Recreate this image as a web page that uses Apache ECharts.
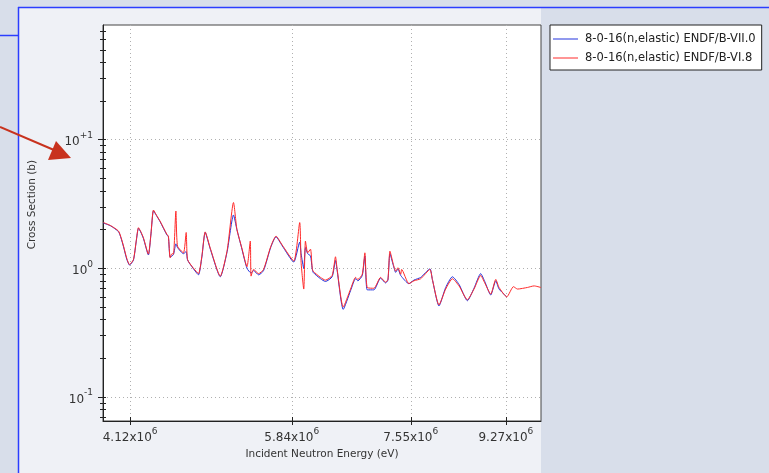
<!DOCTYPE html>
<html>
<head>
<meta charset="utf-8">
<script src="https://cdn.jsdelivr.net/npm/echarts@6/dist/echarts.min.js"></script>
<style>
html,body{margin:0;padding:0;background:#d8deea;}
#c{width:769px;height:473px;}
</style>
</head>
<body>
<div id="c"></div>
<script>
// ---- data (energies in eV, cross sections in barns) ----
const seriesNames = ['8-0-16(n,elastic) ENDF/B-VII.0', '8-0-16(n,elastic) ENDF/B-VI.8'];
const energyBlue = [3.889e6,3.95e6,4.018e6,4.040e6,4.062e6,4.09e6,4.115e6,4.150e6,4.175e6,4.195e6,4.215e6,4.240e6,4.286e6,4.310e6,4.333e6,4.360e6,4.395e6,4.460e6,4.475e6,4.492e6,4.524e6,4.548e6,4.564e6,4.623e6,4.650e6,4.664e6,4.720e6,4.775e6,4.810e6,4.845e6,4.900e6,5.005e6,5.080e6,5.150e6,5.188e6,5.240e6,5.302e6,5.349e6,5.378e6,5.437e6,5.495e6,5.580e6,5.645e6,5.720e6,5.865e6,5.941e6,5.959e6,5.993e6,6.015e6,6.044e6,6.081e6,6.103e6,6.116e6,6.214e6,6.280e6,6.372e6,6.418e6,6.441e6,6.526e6,6.630e6,6.702e6,6.736e6,6.800e6,6.838e6,6.873e6,6.972e6,7.074e6,7.151e6,7.187e6,7.218e6,7.272e6,7.308e6,7.344e6,7.388e6,7.520e6,7.602e6,7.713e6,7.869e6,7.910e6,8.024e6,8.141e6,8.260e6,8.379e6,8.531e6,8.654e6,8.780e6,8.857e6,8.972e6,9.070e6,9.135e6,9.288e6];
const sigmaBlue = [2.25,2.14,1.93,1.72,1.47,1.18,1.06,1.16,1.62,2.05,1.92,1.71,1.27,1.85,2.80,2.58,2.31,1.82,1.76,1.22,1.28,1.55,1.45,1.30,1.35,1.16,1.00,0.89,1.22,1.90,1.40,0.86,1.35,2.60,2.00,1.45,1.00,0.92,0.96,0.89,0.96,1.45,1.76,1.50,1.12,1.60,1.30,1.00,1.45,1.30,1.25,1.00,0.93,0.83,0.79,0.86,1.15,0.96,0.48,0.67,0.83,0.80,0.88,1.25,0.68,0.68,0.84,0.77,0.81,1.30,1.05,0.93,0.99,0.88,0.76,0.81,0.85,0.99,0.82,0.51,0.71,0.86,0.75,0.56,0.70,0.91,0.79,0.62,0.80,0.69,0.60];
const energyRed = [3.889e6,3.95e6,4.018e6,4.040e6,4.062e6,4.09e6,4.115e6,4.150e6,4.175e6,4.195e6,4.215e6,4.240e6,4.286e6,4.310e6,4.333e6,4.360e6,4.395e6,4.460e6,4.475e6,4.492e6,4.510e6,4.524e6,4.548e6,4.564e6,4.623e6,4.650e6,4.664e6,4.720e6,4.775e6,4.810e6,4.845e6,4.900e6,5.005e6,5.080e6,5.150e6,5.188e6,5.240e6,5.302e6,5.340e6,5.349e6,5.378e6,5.437e6,5.495e6,5.580e6,5.645e6,5.720e6,5.865e6,5.941e6,5.959e6,5.993e6,6.015e6,6.044e6,6.081e6,6.103e6,6.116e6,6.214e6,6.280e6,6.372e6,6.418e6,6.441e6,6.526e6,6.630e6,6.702e6,6.736e6,6.800e6,6.838e6,6.873e6,6.972e6,7.074e6,7.151e6,7.187e6,7.218e6,7.272e6,7.308e6,7.344e6,7.388e6,7.403e6,7.520e6,7.602e6,7.713e6,7.869e6,7.910e6,8.024e6,8.141e6,8.260e6,8.379e6,8.531e6,8.654e6,8.780e6,8.857e6,8.972e6,9.070e6,9.135e6,9.288e6,9.423e6,9.506e6,9.712e6,9.852e6,9.996e6];
const sigmaRed = [2.27,2.15,1.95,1.74,1.49,1.20,1.07,1.17,1.64,2.07,1.94,1.73,1.29,1.87,2.84,2.60,2.33,1.84,1.78,1.21,1.30,1.29,2.79,1.49,1.32,1.90,1.17,1.01,0.91,1.24,1.92,1.42,0.87,1.38,3.25,2.01,1.47,1.03,1.63,0.87,0.98,0.91,0.98,1.47,1.78,1.52,1.14,2.27,1.11,0.69,1.63,1.32,1.41,1.01,0.95,0.85,0.81,0.88,1.23,0.98,0.50,0.69,0.85,0.82,0.90,1.32,0.71,0.70,0.85,0.78,0.82,1.36,1.07,0.95,1.01,0.90,0.98,0.76,0.80,0.83,0.98,0.82,0.52,0.69,0.83,0.73,0.57,0.69,0.88,0.77,0.63,0.82,0.71,0.60,0.72,0.69,0.71,0.73,0.71];
const xTickValues = [4.12e6, 5.84e6, 7.55e6, 9.27e6];
const xTickMantissa = ['4.12', '5.84', '7.55', '9.27'];
const xTickExponent = ['6', '6', '6', '6'];
const yTickValues = [0.1, 1, 10];
const yTickExponent = ['-1', '0', '+1'];
const yMinorTicks = [0.07,0.08,0.09,0.1,0.2,0.3,0.4,0.5,0.6,0.7,0.8,0.9,1,2,3,4,5,6,7,8,9,10,20,30,40,50,60,70];
const xRange = [3.886e6, 1.0e7];
const yRange = [0.065, 78];
const xTitle = 'Incident Neutron Energy (eV)';
const yTitle = 'Cross Section (b)';

const FONT = 'DejaVu Sans';
function nearestIdx(arr, v) {
  let best = 0, bd = Infinity;
  arr.forEach((a, i) => { const d = Math.abs(Math.log(a) - Math.log(v)); if (d < bd) { bd = d; best = i; } });
  return best;
}
const rich = {
  b: { fontSize: 12, fontFamily: FONT, color: '#333', lineHeight: 17, verticalAlign: 'bottom' },
  s: { fontSize: 9, fontFamily: FONT, color: '#333', lineHeight: 10, verticalAlign: 'top' }
};

const chart = echarts.init(document.getElementById('c'), null, { renderer: 'canvas' });
const blueData = energyBlue.map((e, i) => [e, sigmaBlue[i]]);
const redData = energyRed.map((e, i) => [e, sigmaRed[i]]);
const gridDef = { left: 103, top: 25, width: 438, height: 396, show: true, backgroundColor: '#ffffff', borderColor: '#444', borderWidth: 1 };
const splitDotted = { show: true, lineStyle: { color: '#b0b0b0', type: [1, 3], width: 1 } };

chart.setOption({
  animation: false,
  backgroundColor: 'transparent',
  graphic: [
    { type: 'rect', z: -5, shape: { x: 18, y: 7, width: 523, height: 466 }, style: { fill: '#eff1f6' } },
    { type: 'line', z: 50, shape: { x1: 18, y1: 7.5, x2: 769, y2: 7.5 }, style: { stroke: '#2b3dff', lineWidth: 1.5 } },
    { type: 'line', z: 50, shape: { x1: 18.5, y1: 7, x2: 18.5, y2: 473 }, style: { stroke: '#2b3dff', lineWidth: 1.5 } },
    { type: 'line', z: 50, shape: { x1: 0, y1: 35.5, x2: 18, y2: 35.5 }, style: { stroke: '#2b3dff', lineWidth: 1.5 } },
    { type: 'line', z: 60, shape: { x1: 0, y1: 127, x2: 54, y2: 150 }, style: { stroke: '#c8321e', lineWidth: 2 } },
    { type: 'polygon', z: 60, shape: { points: [[56, 141], [48, 160], [71, 158]] }, style: { fill: '#c8321e' } },
    { type: 'text', z: 60, left: 27, top: 160, rotation: Math.PI / 2, style: { text: yTitle, fontSize: 10.5, fontFamily: FONT, fill: '#333' } }
  ],
  legend: {
    show: true, left: 550, top: 25, orient: 'vertical',
    backgroundColor: '#ffffff', borderColor: '#222', borderWidth: 1,
    padding: [8, 6, 6, 3], itemGap: 7, itemWidth: 25, itemHeight: 1, icon: 'rect',
    textStyle: { fontSize: 11.5, fontFamily: FONT, color: '#222', padding: [0, 0, 0, 2] },
    data: seriesNames
  },
  grid: gridDef,
  xAxis: [
    {
      type: 'log', min: xRange[0], max: xRange[1], position: 'bottom', gridIndex: 0,
      name: xTitle, nameLocation: 'middle', nameGap: 28,
      nameTextStyle: { fontSize: 10.5, fontFamily: FONT, color: '#333' },
      axisLine: { show: true, lineStyle: { color: '#222', width: 1 } },
      axisTick: { show: true, inside: false, length: 4, customValues: xTickValues, lineStyle: { color: '#222' } },
      axisLabel: {
        show: true, customValues: xTickValues, margin: 6,
        formatter: v => { const i = nearestIdx(xTickValues, v); return '{b|' + xTickMantissa[i] + 'x10}{s|' + xTickExponent[i] + '}'; },
        rich: rich
      },
      splitLine: splitDotted, minorTick: { show: false }, minorSplitLine: { show: false }
    },
    {
      type: 'log', min: xRange[0], max: xRange[1], position: 'bottom', gridIndex: 0,
      axisLine: { show: false },
      axisTick: { show: true, inside: true, length: 4, customValues: xTickValues, lineStyle: { color: '#222' } },
      axisLabel: { show: false }, splitLine: { show: false }
    }
  ],
  yAxis: [
    {
      type: 'log', min: yRange[0], max: yRange[1], position: 'left', gridIndex: 0,
      axisLine: { show: true, lineStyle: { color: '#222', width: 1 } },
      axisTick: { show: true, inside: false, length: 5, customValues: yTickValues, lineStyle: { color: '#222' } },
      axisLabel: {
        show: true, customValues: yTickValues, margin: 10,
        formatter: v => { const i = nearestIdx(yTickValues, v); return '{b|10}{s|' + yTickExponent[i] + '}'; },
        rich: rich
      },
      splitLine: splitDotted
    },
    {
      type: 'log', min: yRange[0], max: yRange[1], position: 'left', gridIndex: 0,
      axisLine: { show: false },
      axisTick: { show: true, inside: false, length: 3, customValues: yMinorTicks, lineStyle: { color: '#222' } },
      axisLabel: { show: false }, splitLine: { show: false }
    },
    {
      type: 'log', min: yRange[0], max: yRange[1], position: 'left', gridIndex: 0,
      axisLine: { show: false },
      axisTick: { show: true, inside: true, length: 3, customValues: yMinorTicks, lineStyle: { color: '#222' } },
      axisLabel: { show: false }, splitLine: { show: false }
    }
  ],
  series: [
    {
      name: seriesNames[0], type: 'line', xAxisIndex: 0, yAxisIndex: 0, data: blueData, smooth: 0.2,
      showSymbol: false, symbol: 'none', lineStyle: { color: '#2233dd', width: 1 }, itemStyle: { color: '#2233dd' }, z: 3
    },
    {
      name: seriesNames[1], type: 'line', xAxisIndex: 0, yAxisIndex: 0, data: redData, smooth: 0.2,
      showSymbol: false, symbol: 'none', lineStyle: { color: '#ff2a2a', width: 1 }, itemStyle: { color: '#ff2a2a' }, z: 4
    }
  ]
});
</script>
</body>
</html>
